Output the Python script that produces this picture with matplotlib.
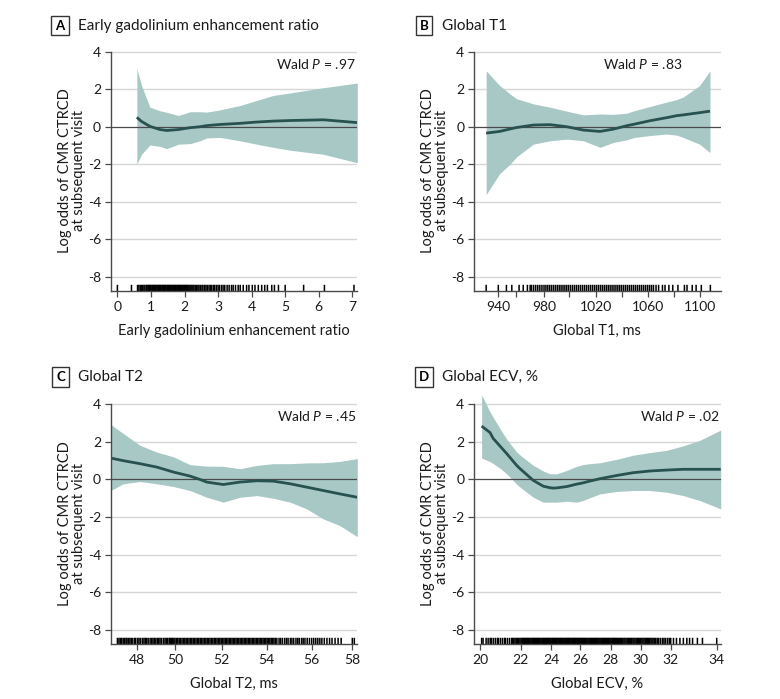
import numpy as np
import matplotlib.pyplot as plt

plt.rcParams['font.family'] = ['Lato', 'DejaVu Sans']
plt.rcParams['mathtext.fontset'] = 'custom'
plt.rcParams['mathtext.it'] = 'Lato:italic'
plt.rcParams['mathtext.rm'] = 'Lato'

# ---- panel A: early gadolinium enhancement ratio
a_x = [0.58, 0.72, 0.97, 1.27, 1.47, 1.82, 2.17, 2.46, 2.66, 3.06, 3.65, 4.15, 4.65, 5.14, 6.14, 7.15]
a_fit = [0.50, 0.28, 0.02, -0.15, -0.20, -0.15, -0.05, 0.00, 0.06, 0.12, 0.18, 0.25, 0.30, 0.33, 0.37, 0.22]
a_hi = [3.10, 2.20, 1.04, 0.85, 0.77, 0.60, 0.80, 0.80, 0.78, 0.90, 1.13, 1.40, 1.67, 1.80, 2.08, 2.33]
a_lo = [-2.00, -1.47, -0.97, -1.05, -1.17, -0.93, -0.90, -0.75, -0.60, -0.57, -0.75, -0.93, -1.10, -1.25, -1.47, -1.92]
a_rug = [0.0, 0.42, 0.6, 0.64, 0.68, 0.72, 0.75, 0.79, 0.82, 0.86, 0.88, 0.91, 0.93, 0.96, 0.98,
         1.0, 1.03, 1.05, 1.08, 1.1, 1.13, 1.15, 1.18, 1.2, 1.23, 1.25, 1.28, 1.3, 1.33, 1.35, 1.38,
         1.4, 1.43, 1.45, 1.48, 1.5, 1.53, 1.55, 1.58, 1.6, 1.63, 1.65, 1.68, 1.7, 1.73, 1.75, 1.78,
         1.8, 1.83, 1.85, 1.88, 1.9, 1.93, 1.95, 1.98, 2.0, 2.03, 2.05, 2.08, 2.1, 2.13, 2.16, 2.19,
         2.22, 2.25, 2.28, 2.32, 2.36, 2.4, 2.43, 2.47, 2.52, 2.55, 2.6, 2.64, 2.68, 2.73, 2.77,
         2.81, 2.86, 2.9, 2.95, 3.0, 3.04, 3.1, 3.15, 3.2, 3.27, 3.33, 3.4, 3.45, 3.52, 3.6, 3.66,
         3.75, 3.85, 3.92, 4.02, 4.1, 4.2, 4.3, 4.39, 4.47, 4.6, 4.68, 4.8, 5.0, 5.55, 6.17, 7.05]

# ---- panel B: global T1
b_x = [928, 941.5, 953, 960.3, 972.3, 984.7, 998, 1010.7, 1023.1, 1033.4, 1043.6, 1049.7, 1061.3, 1074.1, 1082.1, 1087, 1099.7, 1107.7]
b_fit = [-0.34, -0.25, -0.12, -0.04, 0.09, 0.11, 0.00, -0.18, -0.25, -0.13, 0.05, 0.14, 0.32, 0.48, 0.59, 0.63, 0.75, 0.83]
b_hi = [2.98, 2.20, 1.75, 1.49, 1.22, 1.04, 0.83, 0.63, 0.68, 0.66, 0.72, 0.86, 1.08, 1.31, 1.45, 1.58, 2.20, 2.98]
b_lo = [-3.62, -2.50, -2.00, -1.60, -0.93, -0.75, -0.66, -0.75, -1.10, -0.84, -0.70, -0.57, -0.47, -0.39, -0.45, -0.57, -0.93, -1.38]
b_rug = [928, 940, 949, 955, 962, 965, 968, 970, 971, 972.5, 974, 975.5, 977, 978.5, 980, 981.5,
         983, 984.5, 986, 987.5, 989, 990.5, 992, 993.5, 995, 996.5, 998, 999.5, 1001, 1002.5,
         1004, 1005.5, 1007, 1008.5, 1010, 1011.5, 1013, 1014.5, 1016, 1017.5, 1019, 1020.5,
         1022, 1023.5, 1025, 1026.5, 1028, 1029.5, 1031, 1032.5, 1034, 1035.5, 1037, 1038.5,
         1040, 1041.5, 1043, 1044.5, 1046, 1047.5, 1049, 1050.5, 1052, 1053.5, 1055, 1056.5,
         1058, 1059.5, 1061, 1062.5, 1064, 1066, 1068, 1071, 1073, 1076, 1079, 1083, 1088,
         1090, 1094, 1097, 1101, 1108]
b_knots = [916, 940, 960, 980, 1000, 1020, 1040, 1060, 1080, 1100, 1116]
b_knot_pos = [474, 498.3, 516.3, 544, 569.3, 596, 621.7, 648.3, 674, 700, 720.7]

# ---- panel C: global T2
c_x = [46.65, 47.3, 48.17, 49.04, 49.93, 50.64, 51.07, 51.36, 52.07, 52.81, 53.56, 54.29, 55.04, 55.78, 56.57, 57.39, 58.25]
c_fit = [1.14, 1.00, 0.84, 0.66, 0.39, 0.18, 0.00, -0.14, -0.27, -0.14, -0.07, -0.09, -0.23, -0.41, -0.59, -0.77, -0.95]
c_hi = [2.93, 2.45, 1.82, 1.46, 1.20, 0.79, 0.74, 0.71, 0.70, 0.57, 0.75, 0.84, 0.84, 0.88, 0.89, 0.96, 1.11]
c_lo = [-0.59, -0.23, -0.11, -0.23, -0.38, -0.59, -0.80, -0.95, -1.21, -0.95, -0.86, -1.00, -1.21, -1.57, -2.10, -2.46, -3.05]
c_rug = [47.0, 47.08, 47.15, 47.22, 47.3, 47.38, 47.45, 47.5, 47.58, 47.65, 47.72, 47.8, 47.9,
         47.95, 48.05, 48.12, 48.2, 48.3, 48.38, 48.45, 48.52, 48.6, 48.7, 48.78, 48.85, 48.92,
         49.0, 49.08, 49.15, 49.22, 49.3, 49.4, 49.48, 49.55, 49.62, 49.7, 49.76, 49.82, 49.88,
         49.94, 50.0, 50.06, 50.12, 50.18, 50.24, 50.3, 50.36, 50.42, 50.48, 50.54, 50.6, 50.66,
         50.72, 50.78, 50.84, 50.9, 50.96, 51.02, 51.08, 51.14, 51.2, 51.26, 51.32, 51.38, 51.44,
         51.5, 51.56, 51.62, 51.68, 51.74, 51.8, 51.86, 51.92, 51.98, 52.04, 52.1, 52.16, 52.22,
         52.28, 52.34, 52.4, 52.46, 52.52, 52.58, 52.64, 52.7, 52.76, 52.82, 52.88, 52.94, 53.0,
         53.06, 53.12, 53.18, 53.24, 53.3, 53.36, 53.42, 53.48, 53.54, 53.6, 53.66, 53.72, 53.78,
         53.84, 53.9, 53.96, 54.02, 54.08, 54.14, 54.2, 54.26, 54.32, 54.38, 54.45, 54.55, 54.62,
         54.7, 54.8, 54.88, 54.95, 55.05, 55.12, 55.2, 55.3, 55.38, 55.45, 55.55, 55.62, 55.7,
         55.8, 55.9, 56.0, 56.1, 56.2, 56.3, 56.4, 56.5, 56.62, 56.75, 56.88, 57.0, 57.15, 57.3,
         57.45, 58.0, 58.1]
c_knots = [46.65, 48, 50, 52, 54, 56, 58, 58.25]
c_knot_pos = [110.7, 136.7, 175, 221.7, 266.7, 311.7, 352.3, 357.3]

# ---- panel D: global ECV, %
d_x = [20.08, 20.49, 20.65, 20.98, 21.31, 21.8, 21.97, 22.83, 23.49, 23.93, 24.16, 24.39, 25.08, 25.77, 26.21, 26.43, 27.3, 28.39, 29.5, 30.62, 31.73, 32.55, 33.28, 34.17]
d_fit = [2.84, 2.50, 2.18, 1.78, 1.38, 0.75, 0.57, -0.05, -0.36, -0.44, -0.46, -0.45, -0.38, -0.25, -0.18, -0.13, 0.04, 0.21, 0.36, 0.45, 0.50, 0.54, 0.54, 0.54]
d_hi = [4.50, 3.60, 3.30, 2.71, 2.15, 1.46, 1.30, 0.75, 0.45, 0.30, 0.30, 0.30, 0.48, 0.70, 0.79, 0.82, 0.89, 1.07, 1.29, 1.43, 1.55, 1.79, 2.09, 2.63]
d_lo = [1.14, 0.95, 0.84, 0.60, 0.30, -0.25, -0.41, -0.95, -1.21, -1.21, -1.21, -1.21, -1.16, -1.21, -1.12, -1.04, -0.77, -0.64, -0.59, -0.59, -0.68, -0.86, -1.13, -1.57]
d_rug = [20.08, 20.15, 20.3, 20.4, 20.5, 20.55, 20.65, 20.75, 20.85, 20.9, 21.0, 21.1, 21.2,
         21.25, 21.35, 21.45, 21.55, 21.6, 21.66, 21.72, 21.78, 21.84, 21.9, 21.96, 22.02, 22.08,
         22.14, 22.2, 22.26, 22.32, 22.38, 22.44, 22.5, 22.56, 22.62, 22.68, 22.74, 22.8, 22.86,
         22.92, 22.98, 23.04, 23.1, 23.16, 23.22, 23.28, 23.34, 23.4, 23.46, 23.52, 23.58, 23.64,
         23.7, 23.76, 23.82, 23.88, 23.94, 24.0, 24.06, 24.12, 24.18, 24.24, 24.3, 24.36, 24.42,
         24.48, 24.54, 24.6, 24.66, 24.72, 24.78, 24.84, 24.9, 24.96, 25.02, 25.08, 25.14, 25.2,
         25.26, 25.32, 25.38, 25.44, 25.5, 25.56, 25.62, 25.68, 25.74, 25.8, 25.86, 25.92, 25.98,
         26.04, 26.1, 26.16, 26.22, 26.28, 26.34, 26.4, 26.46, 26.52, 26.58, 26.64, 26.7, 26.76,
         26.82, 26.88, 26.94, 27.0, 27.06, 27.12, 27.18, 27.24, 27.3, 27.36, 27.42, 27.48, 27.54,
         27.6, 27.66, 27.72, 27.78, 27.84, 27.9, 27.96, 28.02, 28.08, 28.14, 28.2, 28.26, 28.32,
         28.38, 28.45, 28.52, 28.6, 28.66, 28.74, 28.8, 28.88, 28.95, 29.02, 29.1, 29.18, 29.25,
         29.33, 29.4, 29.48, 29.55, 29.62, 29.7, 29.78, 29.85, 29.92, 30.0, 30.08, 30.15, 30.22,
         30.3, 30.38, 30.45, 30.52, 30.6, 30.68, 30.75, 30.82, 30.9, 31.0, 31.1, 31.2, 31.32,
         31.45, 31.55, 31.65, 31.78, 31.9, 32.0, 32.12, 32.25, 32.4, 32.55, 32.7, 32.82, 32.95,
         33.16, 33.38, 34.0]
d_knots = [19.7, 20, 22, 24, 26, 28, 30, 32, 34, 34.17]
d_knot_pos = [474, 480, 520.7, 551, 580, 610.7, 640.7, 670.7, 716.7, 720.7]

band_color = '#a8c8c6'
line_color = '#285250'
text_color = '#1a1a1a'
ymin, ymax = -8.76, 4.6

fig = plt.figure(figsize=(7.8, 6.99), dpi=100)

panels = [
    dict(letter='A', title='Early gadolinium enhancement ratio', pos=[0.1419, 0.5837, 0.3162, 0.3584],
         x=a_x, fit=a_fit, hi=a_hi, lo=a_lo, rug=a_rug, knots=None, xlim=(-0.2, 7.15),
         ticks=list(range(8)), minor=[], xlabel='Early gadolinium enhancement ratio',
         wald='.97', wald_x=0.995, title_xy=(0.0769, 0.9635)),
    dict(letter='B', title='Global T1', pos=[0.6077, 0.5837, 0.3163, 0.3584],
         x=b_x, fit=b_fit, hi=b_hi, lo=b_lo, rug=b_rug, knots=(b_knots, b_knot_pos),
         xlim=(916, 1116), ticks=[940, 980, 1020, 1060, 1100], minor=[960, 1000, 1040, 1080],
         xlabel='Global T1, ms', wald='.83', wald_x=0.846, title_xy=(0.5436, 0.9635)),
    dict(letter='C', title='Global T2', pos=[0.1419, 0.0787, 0.3162, 0.3590],
         x=c_x, fit=c_fit, hi=c_hi, lo=c_lo, rug=c_rug, knots=(c_knots, c_knot_pos),
         xlim=(46.65, 58.25), ticks=[48, 50, 52, 54, 56, 58], minor=[],
         xlabel='Global T2, ms', wald='.45', wald_x=0.995, title_xy=(0.0777, 0.4611)),
    dict(letter='D', title='Global ECV, %', pos=[0.6077, 0.0787, 0.3163, 0.3590],
         x=d_x, fit=d_fit, hi=d_hi, lo=d_lo, rug=d_rug, knots=(d_knots, d_knot_pos),
         xlim=(19.7, 34.17), ticks=[20, 22, 24, 26, 28, 30, 32, 34], minor=[],
         xlabel='Global ECV, %', wald='.02', wald_x=0.995, title_xy=(0.5436, 0.4611)),
]

for p in panels:
    ax = fig.add_axes(p['pos'])
    if p['knots'] is not None:
        kv, kp = p['knots']
        ax.set_xscale('function', functions=(lambda v, kv=kv, kp=kp: np.interp(v, kv, kp),
                                             lambda u, kv=kv, kp=kp: np.interp(u, kp, kv)))
    ax.set_xlim(*p['xlim'])
    ax.set_ylim(ymin, ymax)

    for g in [4, 2, -2, -4, -6, -8]:
        ax.axhline(g, color='#d6d6d6', lw=1.0, zorder=0)
    ax.fill_between(p['x'], p['lo'], p['hi'], color=band_color, lw=0, zorder=1)
    ax.axhline(0, color='#4a4a4a', lw=0.9, zorder=2)
    ax.plot(p['x'], p['fit'], color=line_color, lw=2.0, zorder=3, solid_capstyle='butt')
    rug = ax.vlines(p['rug'], ymin, ymin + 0.33, color='black', lw=1.1, zorder=2)
    rug.set_snap(False)

    for s in ['top', 'right']:
        ax.spines[s].set_visible(False)
    for s in ['left', 'bottom']:
        ax.spines[s].set_color('#4a4a4a')
        ax.spines[s].set_linewidth(1.0)
    ax.spines['left'].set_bounds(ymin, 4)

    ax.set_yticks([-8, -6, -4, -2, 0, 2, 4])
    ax.set_yticklabels(['-8', '-6', '-4', '-2', '0', '2', '4'])
    ax.set_xticks(p['ticks'])
    ax.set_xticklabels([str(t) for t in p['ticks']])
    ax.set_xticks(p['minor'], minor=True)
    ax.tick_params(axis='both', which='both', length=4, width=0.9, color='#4a4a4a',
                   labelsize=10, labelcolor=text_color, pad=3)

    ax.set_ylabel('Log odds of CMR CTRCD\nat subsequent visit', fontsize=10.5, color=text_color,
                  linespacing=1.0)
    ax.yaxis.set_label_coords(-0.1, 0.48)
    ax.set_xlabel(p['xlabel'], fontsize=10.5, color=text_color)
    ax.xaxis.set_label_coords(0.5, -0.133)

    ax.text(p['wald_x'], 0.908, 'Wald $\\it{P}$ = ' + p['wald'], transform=ax.transAxes,
            ha='right', va='center', fontsize=10, color=text_color)

    tx, ty = p['title_xy']
    fig.text(tx, ty, p['letter'], ha='center', va='center', fontsize=9.5, fontweight='bold',
             bbox=dict(boxstyle='square,pad=0.3', fc='white', ec='#333333', lw=1.0))
    fig.text(tx + 0.0227, ty, p['title'], ha='left', va='center', fontsize=11,
             color=text_color)

fig.savefig('out.png', dpi=100, facecolor='white')
